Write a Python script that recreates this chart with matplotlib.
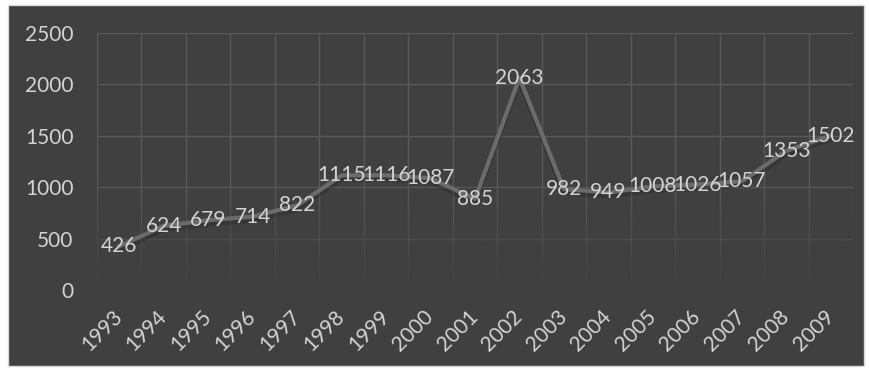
import matplotlib.pyplot as plt
import matplotlib.patheffects as pe
import numpy as np
from matplotlib.patches import Rectangle

years = ["1993", "1994", "1995", "1996", "1997", "1998", "1999", "2000", "2001",
         "2002", "2003", "2004", "2005", "2006", "2007", "2008", "2009"]
values = [426, 624, 679, 714, 822, 1115, 1116, 1087, 885,
          2063, 982, 949, 1008, 1026, 1057, 1353, 1502]

plt.rcParams['font.family'] = ['Lato', 'DejaVu Sans']
bg = "#404040"
txt = "#d4d4d4"

fig = plt.figure(figsize=(8.69, 3.74), dpi=100, facecolor="white")
# dark chart area with light border
fig.patches.append(Rectangle((8 / 869, 1 - 366 / 374), 856 / 869, 361 / 374,
                             transform=fig.transFigure, facecolor=bg,
                             edgecolor="#d9d9d9", linewidth=1, zorder=-10))

ax = fig.add_axes([97 / 869, 1 - 290 / 374, 756 / 869, 257 / 374])
ax.set_facecolor(bg)
x = np.arange(len(years))
ax.set_yticks([0, 500, 1000, 1500, 2000, 2500])
ax.set_xticks(x)
ax.set_xticks(np.arange(-0.5, len(years), 1), minor=True)
ax.set_xticklabels(years, rotation=45, ha="right", va="center",
                   rotation_mode="anchor", color=txt, fontsize=15)
ax.tick_params(axis="x", which="major", length=0, pad=17)
ax.tick_params(axis="x", which="minor", length=0)
ax.tick_params(axis="y", length=0, pad=17, labelcolor=txt, labelsize=15)
ax.grid(axis="y", color="#595959", linewidth=1, zorder=0)
ax.grid(axis="x", which="minor", color="#595959", linewidth=1, zorder=0)
for s in ax.spines.values():
    s.set_visible(False)

# fade the grid toward the bottom
grad = np.zeros((100, 1, 4))
grad[..., :3] = np.array([0x40, 0x40, 0x40]) / 255
grad[:, 0, 3] = np.linspace(0, 1, 100) ** 1.2
ax.imshow(grad, extent=[-0.5, len(years) - 0.5, -20, 1100], aspect="auto",
          zorder=2, origin="upper")
ax.set_xlim(-0.5, len(years) - 0.5)
ax.set_ylim(0, 2500)

ax.plot(x, values, color="#6b6b6b", linewidth=3, zorder=3,
        path_effects=[pe.SimpleLineShadow(offset=(0, -3), shadow_color="black", alpha=0.15),
                      pe.Normal()])

for xi, v in zip(x, values):
    ax.text(xi, v, str(v), ha="center", va="center", color=txt, fontsize=15, zorder=4)

plt.savefig("out.png", dpi=100, facecolor=fig.get_facecolor())
